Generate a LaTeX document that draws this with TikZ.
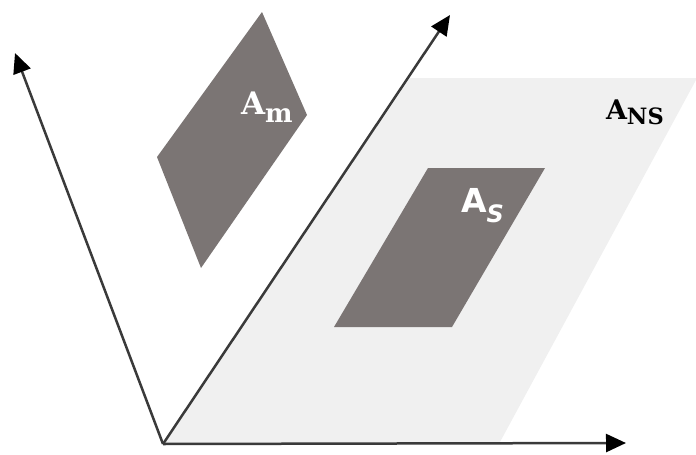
\documentclass[tikz,border=0pt]{standalone}
\usepackage{fontspec}
\setmainfont{DejaVu Serif}
\newfontfamily\slabfont{DejaVu Serif}
\newfontfamily\sansfnt{DejaVu Sans}
\usetikzlibrary{arrows.meta}
\definecolor{darkpar}{HTML}{7B7574}
\definecolor{lightpar}{HTML}{F0F0F0}
\definecolor{axiscol}{HTML}{3A3A3A}
\begin{document}
\begin{tikzpicture}[x=1pt,y=-1pt,
  axisline/.style={draw=axiscol, line width=2.5pt, -{Triangle[length=20pt,width=18pt,color=black]}},
  lbl/.style={anchor=base west, inner sep=0pt, outer sep=0pt}]
\useasboundingbox (0,0) rectangle (696,455);
% coordinates
\coordinate (o) at (163,444);
\coordinate (xend) at (626,443);
\coordinate (yend) at (15,53);
\coordinate (zend) at (450,15);
% light plane A_NS
\fill[lightpar] (o) -- (410,78) -- (696,78) -- (696,80) -- (500,442) -- cycle;
% A_S
\fill[darkpar] (428,168) -- (545,168) -- (452,327) -- (334,327) -- cycle;
% A_m
\fill[darkpar] (262,12) -- (307,115) -- (201,268) -- (157,157) -- cycle;
% axes
\draw[axisline] (o) -- (xend);
\draw[axisline] (o) -- (yend);
\draw[axisline] (o) -- (zend);
% labels
\node[lbl, text=white] (lm) at (241,114) {\slabfont\bfseries\fontsize{31}{31}\selectfont A\raisebox{-8pt}{\fontsize{26}{26}\selectfont m}};
\node[lbl, text=white] (ls) at (461,212) {\sansfnt\bfseries\fontsize{33}{33}\selectfont A\raisebox{-10pt}{\fontsize{24}{24}\selectfont\itshape S}};
\node[lbl, text=black] (lns) at (606,119) {\slabfont\bfseries\fontsize{27}{27}\selectfont A\raisebox{-5pt}{\fontsize{22.5}{22.5}\selectfont NS}};
\end{tikzpicture}
\end{document}
